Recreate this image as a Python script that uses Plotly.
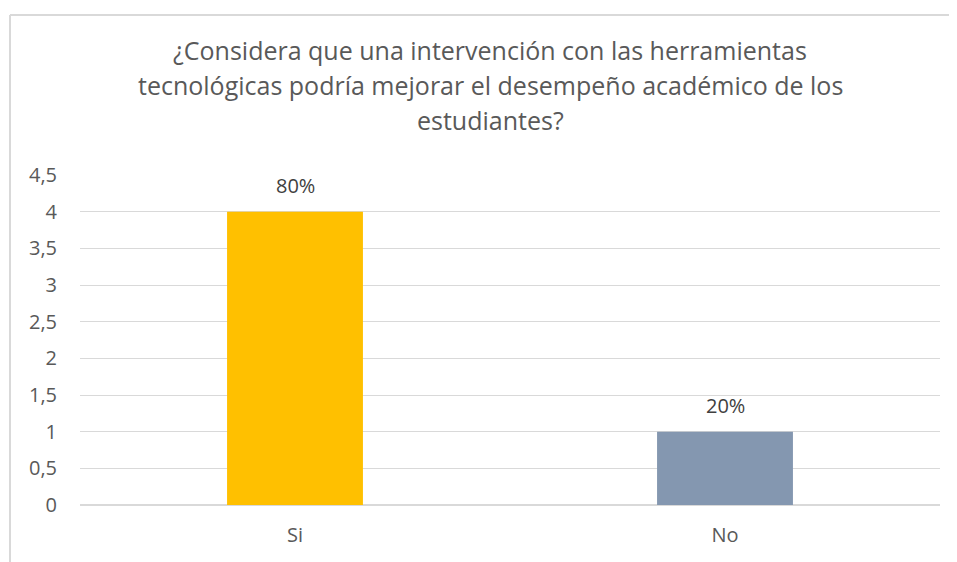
import plotly.graph_objects as go

# datos
categorias = ["Si", "No"]
valores = [4, 1]
etiquetas = ["80%", "20%"]
colores = ["#FFC000", "#8497B0"]

TITULO = ["¿Considera que una intervención con las herramientas",
          "tecnológicas podría mejorar el desempeño académico de los",
          "estudiantes?"]

GRIS = "#595959"
GRID = "#D9D9D9"
FONT = "Open Sans, Liberation Sans, sans-serif"

# la página deja 8px de margen en el body: se compensa aquí
W, H = 949, 554
ML, MR, MT, MB = 72, 17, 167, 57
PW, PH = W - ML - MR, H - MT - MB

fig = go.Figure(go.Bar(
    x=categorias, y=valores,
    marker=dict(color=colores, line=dict(width=0)),
    width=0.316, hoverinfo="x+y",
))

for cat, val, txt in zip(categorias, valores, etiquetas):
    fig.add_annotation(x=cat, y=val, text=txt, showarrow=False,
                       yanchor="bottom", yshift=11,
                       font=dict(size=20, color="#404040", family=FONT))

# título en tres líneas
for i, linea in enumerate(TITULO):
    yc = 50 - 8 + 35 * i
    fig.add_annotation(xref="paper", yref="paper",
                       x=(490 - 8 - ML) / PW, y=1 + (MT - yc) / PH,
                       text=linea, showarrow=False,
                       xanchor="center", yanchor="middle",
                       font=dict(size=25, color=GRIS, family=FONT))

fig.update_layout(
    width=W, height=H,
    paper_bgcolor="white", plot_bgcolor="white",
    separators=",.",
    margin=dict(l=ML, r=MR, t=MT, b=MB),
    showlegend=False,
    font=dict(family=FONT, color=GRIS, size=20),
)
fig.update_yaxes(range=[0, 4.5], dtick=0.5, showgrid=True, gridcolor=GRID,
                 gridwidth=1, zeroline=True, zerolinecolor=GRID,
                 showline=False, ticks="", ticklabelstandoff=22,
                 tickfont=dict(size=20, color=GRIS))
fig.update_xaxes(showgrid=False, showline=True, linecolor=GRID, linewidth=1,
                 ticks="", ticklabelstandoff=12,
                 tickfont=dict(size=20, color=GRIS))

# borde del área del gráfico (solo arriba e izquierda, el resto queda fuera)
bx = (10 - 8 - ML) / PW
by = 1 + (MT - (15 - 8)) / PH
fig.add_shape(type="line", xref="paper", yref="paper",
              x0=bx, x1=1 + (MR + 5) / PW, y0=by, y1=by,
              line=dict(color=GRID, width=2))
fig.add_shape(type="line", xref="paper", yref="paper",
              x0=bx, x1=bx, y0=by, y1=-(MB + 5) / PH,
              line=dict(color=GRID, width=2))

fig.write_html("out.html")
